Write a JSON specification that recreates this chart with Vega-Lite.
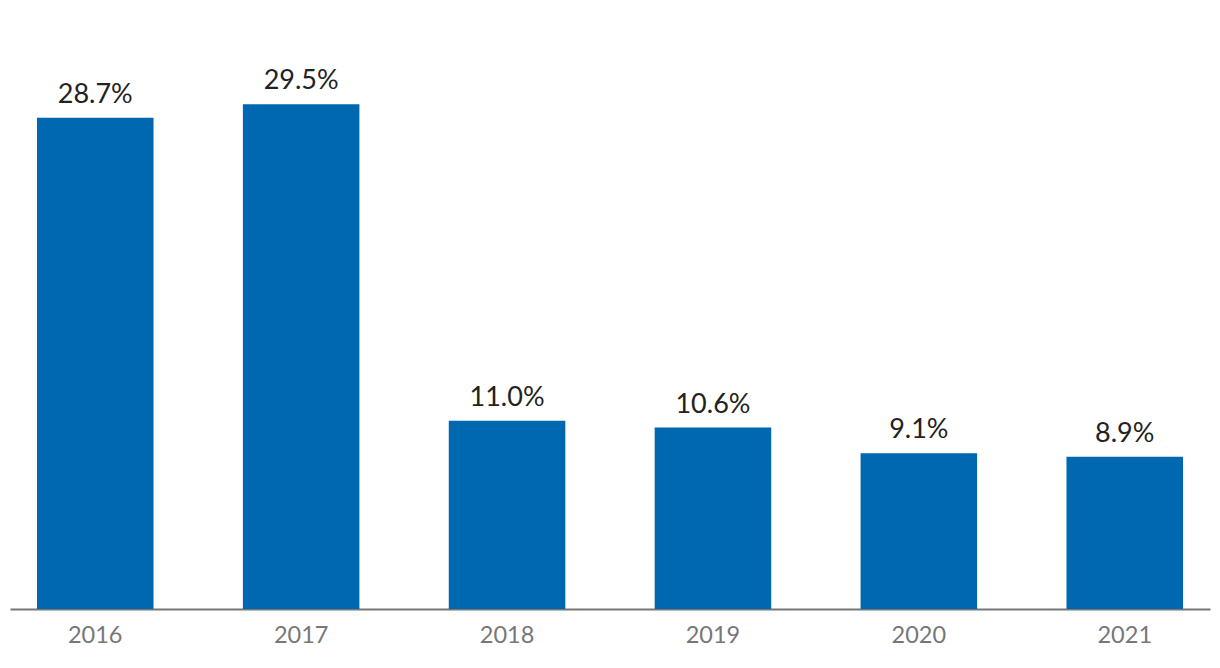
{
  "$schema": "https://vega.github.io/schema/vega-lite/v6.json",
  "width": 1200,
  "height": 599,
  "autosize": {"type": "none"},
  "padding": {"left": 10, "top": 10, "right": 10, "bottom": 59},
  "background": "white",
  "config": {"view": {"stroke": null}, "font": "Lato"},
  "data": {"values": [
    {"year": "2016", "value": 28.7, "label": "28.7%"},
    {"year": "2017", "value": 29.5, "label": "29.5%"},
    {"year": "2018", "value": 11.0, "label": "11.0%"},
    {"year": "2019", "value": 10.6, "label": "10.6%"},
    {"year": "2020", "value": 9.1, "label": "9.1%"},
    {"year": "2021", "value": 8.9, "label": "8.9%"}
  ]},
  "encoding": {
    "x": {"field": "year", "type": "nominal", "sort": null,
      "scale": {"paddingInner": 0.434, "paddingOuter": 0.131},
      "axis": {"title": null, "labelAngle": 0, "ticks": false, "domainColor": "#777777", "domainWidth": 2,
        "labelColor": "#777777", "labelFontSize": 23.5, "labelFont": "Lato", "labelPadding": 14}},
    "y": {"field": "value", "type": "quantitative", "scale": {"domain": [0, 35], "nice": false},
      "axis": null}
  },
  "layer": [
    {"mark": {"type": "bar", "color": "#0067B1"}},
    {"mark": {"type": "text", "baseline": "alphabetic", "dy": -15, "fontSize": 27, "color": "#222222", "font": "Lato"},
     "encoding": {"text": {"field": "label", "type": "nominal"}}}
  ]
}
